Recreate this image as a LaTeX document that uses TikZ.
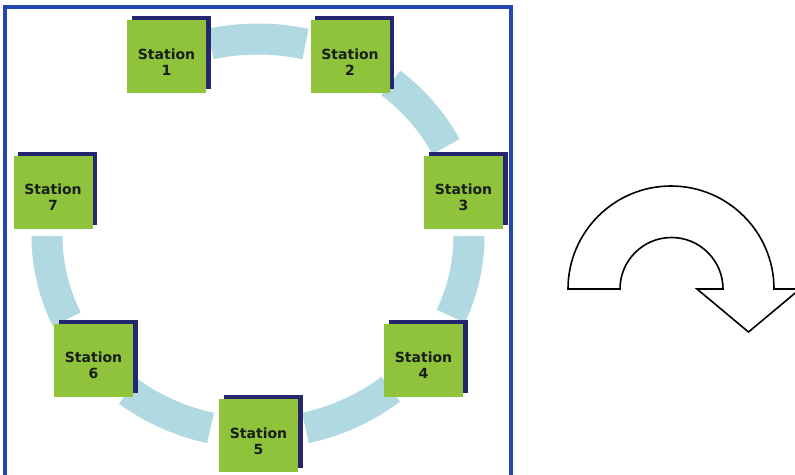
\documentclass[tikz,border=0pt]{standalone}
\usepackage{fontspec}
\newfontfamily\stfont{DejaVu Sans}
\usetikzlibrary{shadows}
\definecolor{frameblue}{RGB}{35,70,175}
\definecolor{ringblue}{RGB}{176,217,225}
\definecolor{stgreen}{RGB}{143,195,60}
\definecolor{stnavy}{RGB}{38,38,110}
\definecolor{sttext}{RGB}{25,30,25}
\begin{document}
\begin{tikzpicture}[x=1pt,y=-1pt,
  stbox/.style={rectangle,minimum width=79pt,minimum height=73pt,inner sep=0pt,fill=stgreen,
    general shadow={shadow xshift=4.5pt,shadow yshift=4pt,fill=stnavy}},
  sttxt/.style={font=\stfont\bfseries\fontsize{14}{16}\selectfont,text=sttext,align=center,inner sep=0pt},
  ring/.style={ringblue,line width=31pt,line cap=butt},
  frame/.style={frameblue,line width=3.8pt},
  uturn/.style={draw=black,line width=1.6pt,fill=white,line join=miter}]
\useasboundingbox (0,0) rectangle (795,474);
\clip (0,0) rectangle (795,474);
\fill[white] (0,0) rectangle (795,474);
\draw[frame] (5.3,7) rectangle (511,500);
\foreach \a/\b in {-103/-77,-51/-27,0/24,51/77,103/128,155/180}
  \draw[ring] plot[domain=\a:\b,samples=30] ({258+211*cos(\x)},{236+197*sin(\x)});
\node[stbox] (s1) at (166.5,56.5) {};
\node[stbox] (s2) at (350,56.5) {};
\node[stbox] (s3) at (463.5,192) {};
\node[stbox] (s4) at (423.5,360) {};
\node[stbox] (s5) at (258.5,435.5) {};
\node[stbox] (s6) at (93.5,360) {};
\node[stbox] (s7) at (53,192) {};
\foreach \i in {1,...,7}
  \node[sttxt] (t\i) at ([yshift=-5.5pt]s\i.center) {Station\\\i};
\draw[uturn] (568,289) arc[start angle=180,end angle=0,radius=103pt] -- (800,289) -- (748.5,332) -- (697,289) -- (723,289) arc[start angle=0,end angle=180,radius=51.5pt] -- cycle;
\end{tikzpicture}
\end{document}
